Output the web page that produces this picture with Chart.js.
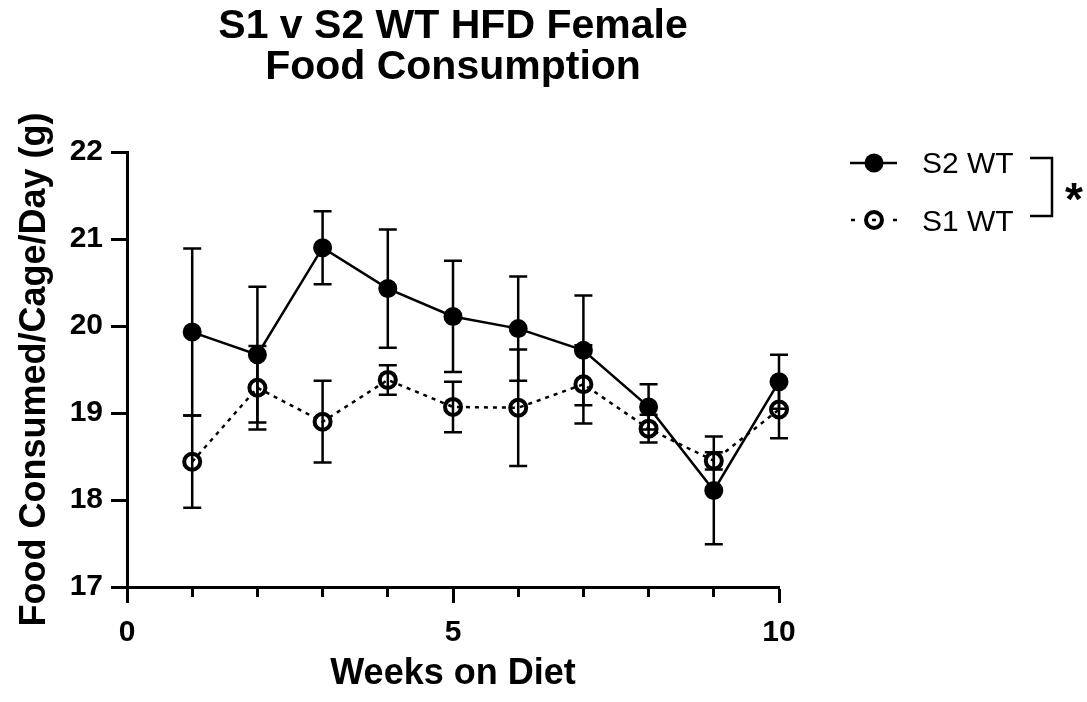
<!DOCTYPE html>
<html>
<head>
<meta charset="utf-8">
<script src="https://cdn.jsdelivr.net/npm/chart.js@4.4.1/dist/chart.umd.min.js"></script>
<style>
  html, body { margin: 0; padding: 0; background: #fff; }
  #wrap { width: 1087px; height: 702px; }
</style>
</head>
<body>
<div id="wrap"><canvas id="c" width="1087" height="702"></canvas></div>
<script>
// ---- Data ----
const weeks = [1, 2, 3, 4, 5, 6, 7, 8, 9, 10];
const s2Mean = [19.93, 19.67, 20.90, 20.43, 20.11, 19.97, 19.72, 19.07, 18.11, 19.36];
const s2Err  = [0.96, 0.78, 0.42, 0.68, 0.64, 0.60, 0.63, 0.26, 0.62, 0.31];
const s1Mean = [18.44, 19.29, 18.90, 19.38, 19.07, 19.06, 19.33, 18.82, 18.45, 19.04];
const s1Err  = [0.53, 0.48, 0.47, 0.17, 0.29, 0.67, 0.45, 0.16, 0.10, 0.33];
const seriesNames = ['S2 WT', 'S1 WT'];
const chartTitle = ['S1 v S2 WT HFD Female', 'Food Consumption'];
const xTitle = 'Weeks on Diet';
const yTitle = 'Food Consumed/Cage/Day (g)';
const yTicks = [17, 18, 19, 20, 21, 22];
const xTickLabels = [0, 5, 10];

const FONT = '"Liberation Sans", Arial, Helvetica, sans-serif';
Chart.defaults.font.family = FONT;
Chart.defaults.color = '#000';

const toXY = (ys) => weeks.map((w, i) => ({ x: w, y: ys[i] }));

const errorBars = {
  id: 'errorBars',
  beforeDatasetsDraw(chart) {
    const { ctx, scales: { x, y } } = chart;
    const sets = [[s2Mean, s2Err], [s1Mean, s1Err]];
    ctx.save();
    ctx.strokeStyle = '#000';
    ctx.lineWidth = 2.5;
    ctx.lineCap = 'butt';
    sets.forEach(([m, e]) => {
      weeks.forEach((w, i) => {
        const px = x.getPixelForValue(w);
        const top = y.getPixelForValue(m[i] + e[i]);
        const bot = y.getPixelForValue(m[i] - e[i]);
        ctx.beginPath();
        ctx.moveTo(px, top); ctx.lineTo(px, bot);
        ctx.moveTo(px - 9, top); ctx.lineTo(px + 9, top);
        ctx.moveTo(px - 9, bot); ctx.lineTo(px + 9, bot);
        ctx.stroke();
      });
    });
    ctx.restore();
  }
};

const decorations = {
  id: 'decorations',
  afterDraw(chart) {
    const ctx = chart.ctx;
    ctx.save();
    ctx.fillStyle = '#000';
    ctx.strokeStyle = '#000';
    // Title
    ctx.font = 'bold 41px ' + FONT;
    ctx.textAlign = 'center';
    ctx.textBaseline = 'alphabetic';
    const cx = (chart.chartArea.left + chart.chartArea.right) / 2;
    ctx.fillText(chartTitle[0], cx, 38);
    ctx.fillText(chartTitle[1], cx, 79);

    // Legend
    ctx.lineWidth = 2.5;
    // S2
    ctx.beginPath(); ctx.moveTo(850, 163); ctx.lineTo(897, 163); ctx.stroke();
    ctx.beginPath(); ctx.arc(874, 163, 9.5, 0, Math.PI * 2); ctx.fill();
    // S1
    [[851, 855], [872, 876], [893, 897]].forEach(([a, b]) => {
      ctx.beginPath(); ctx.moveTo(a, 220); ctx.lineTo(b, 220); ctx.stroke();
    });
    ctx.lineWidth = 4;
    ctx.beginPath(); ctx.arc(874, 220, 8, 0, Math.PI * 2); ctx.stroke();

    ctx.font = '30px ' + FONT;
    ctx.textAlign = 'left';
    ctx.fillText(seriesNames[0], 922, 173);
    ctx.fillText(seriesNames[1], 922, 231);

    // Bracket
    ctx.lineWidth = 2.5;
    ctx.beginPath();
    ctx.moveTo(1030, 158); ctx.lineTo(1052, 158); ctx.lineTo(1052, 216); ctx.lineTo(1030, 216);
    ctx.stroke();
    ctx.font = 'bold 46px ' + FONT;
    ctx.textAlign = 'center';
    ctx.fillText('*', 1074, 215);
    ctx.restore();
  }
};

new Chart(document.getElementById('c'), {
  type: 'line',
  data: {
    datasets: [
      {
        label: seriesNames[0],
        data: toXY(s2Mean),
        order: 1,
        borderColor: '#000',
        borderWidth: 2.5,
        backgroundColor: '#000',
        pointRadius: 8.5,
        pointBorderWidth: 2,
        pointBackgroundColor: '#000',
        pointBorderColor: '#000',
        tension: 0,
        clip: false
      },
      {
        label: seriesNames[1],
        data: toXY(s1Mean),
        order: 0,
        borderColor: '#000',
        borderWidth: 2.5,
        borderDash: [4, 5],
        backgroundColor: 'rgba(0,0,0,0)',
        pointRadius: 8,
        pointBorderWidth: 4,
        pointBackgroundColor: 'rgba(0,0,0,0)',
        pointBorderColor: '#000',
        tension: 0,
        clip: false
      }
    ]
  },
  options: {
    responsive: false,
    animation: false,
    events: [],
    layout: { padding: { left: 0, top: 152, right: 308, bottom: 0 } },
    plugins: { legend: { display: false }, title: { display: false }, tooltip: { enabled: false } },
    scales: {
      x: {
        type: 'linear',
        min: 0, max: 10,
        afterFit: (s) => { s.height = 115; },
        afterBuildTicks: (s) => { s.ticks = weeks.concat([0]).sort((a, b) => a - b).map(v => ({ value: v })); },
        ticks: {
          autoSkip: false, maxRotation: 0, padding: 12,
          font: { size: 30, weight: 'bold' }, color: '#000',
          callback: (v) => xTickLabels.includes(v) ? String(v) : ''
        },
        grid: {
          display: true, drawOnChartArea: false, drawTicks: true,
          tickLength: 16, tickWidth: 3, tickColor: '#000',
          tickBorderDash: (c) => (c.tick && xTickLabels.includes(c.tick.value)) ? [] : [8, 100]
        },
        border: { display: true, width: 3, color: '#000' },
        title: {
          display: true, text: xTitle, color: '#000',
          font: { size: 36, weight: 'bold' }, padding: { top: 0, bottom: 6 }
        }
      },
      y: {
        type: 'linear',
        min: 17, max: 22,
        afterFit: (s) => { s.width = 127; },
        afterBuildTicks: (s) => { s.ticks = yTicks.map(v => ({ value: v })); },
        ticks: { padding: 8, font: { size: 30, weight: 'bold' }, color: '#000' },
        grid: {
          display: true, drawOnChartArea: false, drawTicks: true,
          tickLength: 16, tickWidth: 3, tickColor: '#000'
        },
        border: { display: true, width: 3, color: '#000' },
        title: {
          display: true, text: yTitle, color: '#000',
          font: { size: 36, weight: 'bold' }, padding: { top: 13, bottom: 0 }
        }
      }
    }
  },
  plugins: [errorBars, decorations]
});
</script>
</body>
</html>
